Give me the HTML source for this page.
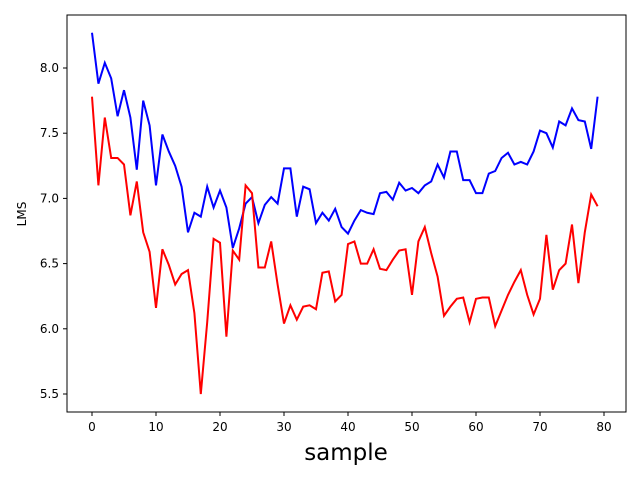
<!DOCTYPE html>
<html><head><meta charset="utf-8"><style>
body{margin:0;background:#fff;font-family:"Liberation Sans","DejaVu Sans",sans-serif;}
svg text{font-family:"DejaVu Sans","Liberation Sans",sans-serif;}
</style></head><body>
<svg id="chart" width="640" height="480" xmlns="http://www.w3.org/2000/svg">
<rect x="0" y="0" width="640" height="480" fill="#fff"/>
<g id="ticks"></g>
<g id="lines"></g>
<rect x="67" y="15" width="559" height="397" fill="none" stroke="#000" stroke-width="1"/>
<text x="346" y="460" font-size="23" text-anchor="middle">sample</text>
<text transform="translate(26,214) rotate(-90)" font-size="12" text-anchor="middle">LMS</text>
</svg>
<script>
const xTicks = [0,10,20,30,40,50,60,70,80];
const yTicks = [5.5,6.0,6.5,7.0,7.5,8.0];
const blueSeries = [8.27,7.88,8.04,7.92,7.63,7.83,7.62,7.22,7.75,7.56,7.10,7.49,7.36,7.25,7.09,6.74,6.89,6.86,7.09,6.93,7.06,6.93,6.62,6.77,6.96,7.01,6.81,6.95,7.01,6.96,7.23,7.23,6.86,7.09,7.07,6.81,6.89,6.83,6.92,6.78,6.73,6.83,6.91,6.89,6.88,7.04,7.05,6.99,7.12,7.06,7.08,7.04,7.10,7.13,7.26,7.16,7.36,7.36,7.14,7.14,7.04,7.04,7.19,7.21,7.31,7.35,7.26,7.28,7.26,7.36,7.52,7.50,7.39,7.59,7.56,7.69,7.60,7.59,7.38,7.78];
const redSeries = [7.78,7.10,7.62,7.31,7.31,7.26,6.87,7.13,6.74,6.59,6.16,6.61,6.49,6.34,6.42,6.45,6.12,5.50,6.05,6.69,6.66,5.94,6.60,6.53,7.10,7.04,6.47,6.47,6.67,6.34,6.04,6.18,6.07,6.17,6.18,6.15,6.43,6.44,6.21,6.26,6.65,6.67,6.50,6.50,6.61,6.46,6.45,6.53,6.60,6.61,6.26,6.67,6.78,6.58,6.40,6.10,6.17,6.23,6.24,6.05,6.23,6.24,6.24,6.02,6.14,6.26,6.36,6.45,6.26,6.11,6.23,6.72,6.30,6.45,6.50,6.80,6.35,6.74,7.03,6.94];

const NS="http://www.w3.org/2000/svg";
const xs = v => 92 + v*6.4;
const ys = v => 68 + (8.0 - v)*130.4;
const tg = document.getElementById('ticks');
xTicks.forEach(t=>{
  const l=document.createElementNS(NS,'line');
  
  
  l.setAttribute('x1',xs(t));l.setAttribute('x2',xs(t));l.setAttribute('y1',412);l.setAttribute('y2',416);
  l.setAttribute('stroke','#000');tg.appendChild(l);
  const tx=document.createElementNS(NS,'text');
  
  
  tx.setAttribute('x',xs(t));tx.setAttribute('y',431);tx.setAttribute('font-size','12');tx.setAttribute('text-anchor','middle');
  tx.textContent=t;tg.appendChild(tx);
});
yTicks.forEach(t=>{
  const l=document.createElementNS(NS,'line');
  
  
  l.setAttribute('x1',63);l.setAttribute('x2',67);l.setAttribute('y1',ys(t));l.setAttribute('y2',ys(t));
  l.setAttribute('stroke','#000');tg.appendChild(l);
  const tx=document.createElementNS(NS,'text');
  
  
  tx.setAttribute('x',59);tx.setAttribute('y',ys(t)+4);tx.setAttribute('font-size','12');tx.setAttribute('text-anchor','end');
  tx.textContent=t.toFixed(1);tg.appendChild(tx);
});
const lg=document.getElementById('lines');
function drawLine(data,color,name){
  const p=document.createElementNS(NS,'polyline');
  
  
  p.setAttribute('points',data.map((v,i)=>xs(i)+','+ys(v)).join(' '));
  p.setAttribute('fill','none');p.setAttribute('stroke',color);p.setAttribute('stroke-width','2');
  lg.appendChild(p);
}
drawLine(blueSeries,'#0000ff','blue-series-line');
drawLine(redSeries,'#ff0000','red-series-line');
</script>
</body></html>
